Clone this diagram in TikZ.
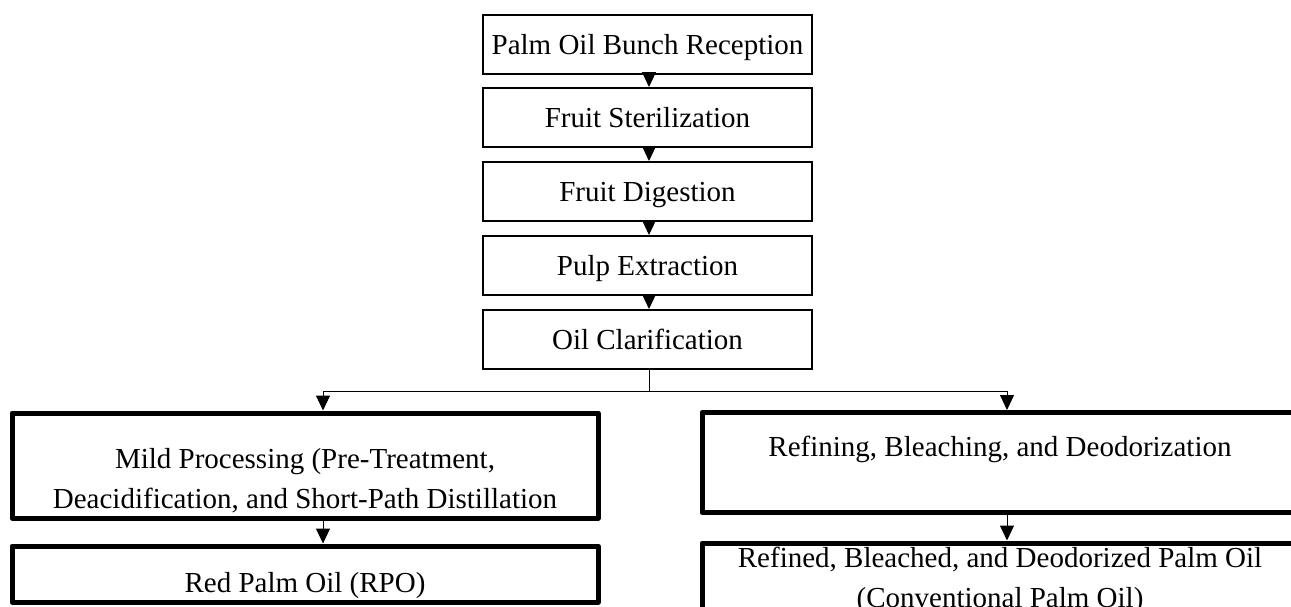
\documentclass[tikz,border=0pt]{standalone}
\usepackage{fontspec}
\setmainfont{Liberation Serif}
\usetikzlibrary{arrows.meta}

\begin{document}
\begin{tikzpicture}[x=1pt,y=-1pt,
  stage/.style={draw,line width=2pt,minimum width=329pt,minimum height=59pt,inner sep=0pt,
    text height=24pt,text depth=4pt,font=\fontsize{29}{34}\selectfont},
  product/.style={draw,line width=5pt,line join=round,inner sep=0pt},
  caption/.style={align=center,inner sep=0pt,font=\fontsize{29}{40}\selectfont},
  flow/.style={line width=1pt,-{Triangle[width=14pt,length=15pt]}}]
\useasboundingbox (0,0) rectangle (1291,606);
\clip (0,0) rectangle (1291,606);
% mill stages
\node[stage] (recv) at (647.5,44) {Palm Oil Bunch Reception};
\node[stage] (steril) at (647.5,117.5) {Fruit Sterilization};
\node[stage] (digest) at (647.5,191.5) {Fruit Digestion};
\node[stage] (extract) at (647.5,265.5) {Pulp Extraction};
\node[stage] (clar) at (647.5,339.5) {Oil Clarification};
\foreach \a/\b in {recv/steril,steril/digest,digest/extract,extract/clar}
  \draw[flow] ([xshift=1.5pt]\a.south) -- ([xshift=1.5pt]\b.north);
% two routes
\node[product,minimum width=586pt,minimum height=105pt] (mild) at (305,465.5) {};
\node[caption] (mildtxt) at ([yshift=-15pt]mild.center) {Mild Processing (Pre-Treatment,\\Deacidification, and Short-Path Distillation};
\node[product,minimum width=586pt,minimum height=56pt] (rpo) at (305,574) {};
\node[caption] (rpotxt) at ([yshift=-12pt]rpo.center) {Red Palm Oil (RPO)};
\node[product,minimum width=596pt,minimum height=100pt] (rbd) at (1000,462.5) {};
\node[caption] (rbdtxt) at ([yshift=13pt]rbd.center) {Refining, Bleaching, and Deodorization};
\node[product,minimum width=596pt,minimum height=87pt] (rbdpo) at (1000,586.5) {};
\node[caption] (rbdpotxt) at ([yshift=6pt]rbdpo.center) {Refined, Bleached, and Deodorized Palm Oil\\(Conventional Palm Oil)};
\draw[line width=1pt] ([xshift=1.5pt]clar.south) -- ++(0,21) coordinate (fork);
\draw[flow] (fork) -| ([xshift=18pt]mild.north);
\draw[flow] (fork) -| ([xshift=7pt]rbd.north);
\draw[flow] ([xshift=18pt]mild.south) -- ([xshift=18pt]rpo.north);
\draw[flow] ([xshift=7pt]rbd.south) -- ([xshift=7pt]rbdpo.north);
\end{tikzpicture}
\end{document}
